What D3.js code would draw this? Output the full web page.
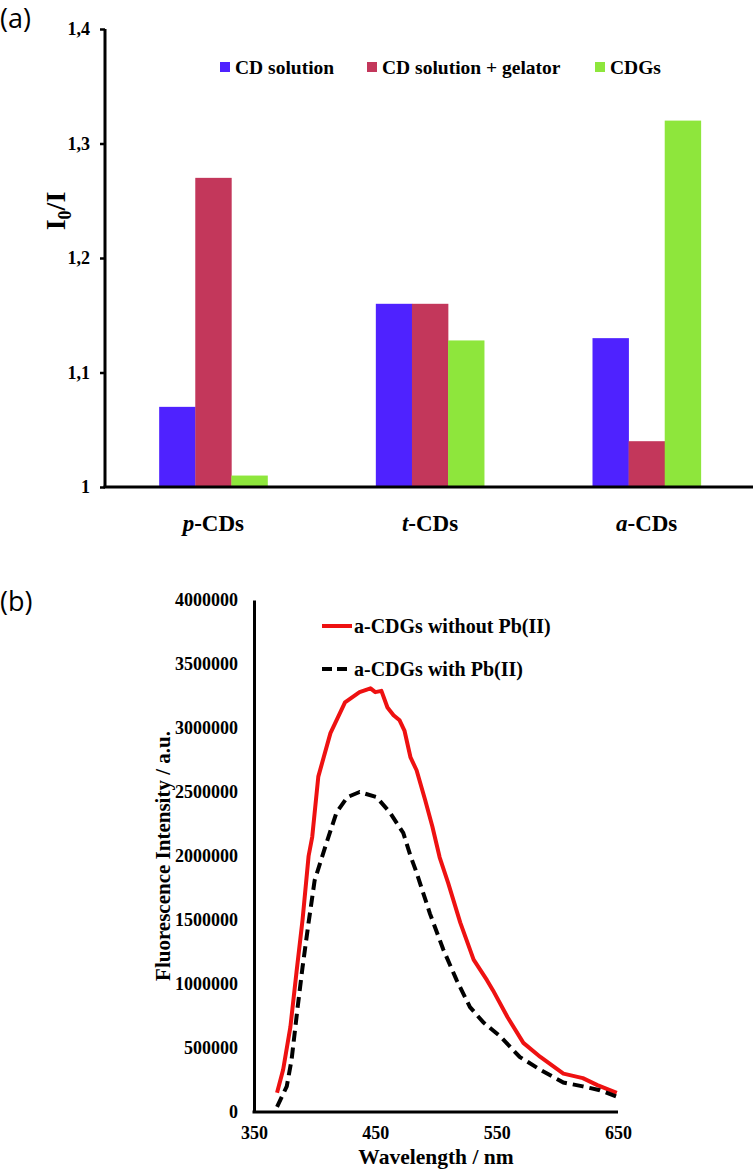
<!DOCTYPE html>
<html><head><meta charset="utf-8">
<script src="https://cdn.jsdelivr.net/npm/d3@7"></script>
<style>
html,body{margin:0;padding:0;background:#fff;}
svg{display:block;}
text{font-family:"Liberation Serif","Times New Roman",serif !important;font-weight:bold;fill:#000;}
text.sans{font-family:"Open Sans","Liberation Sans",sans-serif !important;font-weight:normal;}
</style></head>
<body>
<svg id="chart" width="756" height="1175"></svg>
<script>
// ---------- Data (a) ----------
const categories = ["p", "t", "a"];           // prefix of "-CDs"
const seriesNames = ["CD solution", "CD solution + gelator", "CDGs"];
const seriesColors = ["#4f22ff", "#c3375b", "#8ee63c"];
const cdSolution = [1.07, 1.16, 1.13];
const cdSolutionGelator = [1.27, 1.16, 1.04];
const cdgs = [1.01, 1.128, 1.32];
const yTicksA = [1, 1.1, 1.2, 1.3, 1.4];
const yTickLabelsA = ["1", "1,1", "1,2", "1,3", "1,4"];

// ---------- Data (b) ----------
const redWl = [369,374,380,385,390,395,398,403,413,425,437,446,450,455,460,465,470,474,479,484,491,497,503,510,520,531,542,547,559,572,586,605,621,633,649];
const redVal = [150000,330000,665000,1090000,1500000,2000000,2150000,2620000,2960000,3200000,3280000,3310000,3280000,3290000,3160000,3100000,3060000,2980000,2770000,2670000,2440000,2230000,1990000,1790000,1480000,1190000,1030000,950000,740000,540000,430000,300000,265000,210000,150000];
const blackWl = [369,377,381,386,390,395,400,409,418,427,437,451,462,473,479,484,495,506,517,528,539,553,569,586,605,621,635,649];
const blackVal = [40000,200000,410000,820000,1130000,1480000,1810000,2080000,2340000,2460000,2500000,2460000,2340000,2180000,2000000,1870000,1550000,1270000,1030000,820000,700000,590000,430000,330000,230000,200000,170000,120000];
const legendB = ["a-CDGs without Pb(II)", "a-CDGs with Pb(II)"];
const yTicksB = [0,500000,1000000,1500000,2000000,2500000,3000000,3500000,4000000];
const xTicksB = [350,450,550,650];

const svg = d3.select("#chart");

// ================= Panel (a) =================
svg.append("text").attr("class", "sans").attr("x", 0).attr("y", 28)
  .style("font-size", "27px").text("(a)");

const yA = d3.scaleLinear().domain([1, 1.4]).range([487, 29]);
const x0 = d3.scaleBand().domain(categories).range([105, 755]).paddingInner(0.5).paddingOuter(0.25);
const x1 = d3.scaleBand().domain(d3.range(3)).range([0, x0.bandwidth()]);
const seriesVals = [cdSolution, cdSolutionGelator, cdgs];

const gA = svg.append("g");
categories.forEach((c, ci) => {
  seriesVals.forEach((vals, si) => {
    gA.append("rect")
      .attr("x", x0(c) + x1(si))
      .attr("y", yA(vals[ci]))
      .attr("width", x1.bandwidth() + 0.3)
      .attr("height", yA(1) - yA(vals[ci]))
      .attr("fill", seriesColors[si]);
  });
});

// y axis
const yAxisA = d3.axisLeft(yA).tickValues(yTicksA).tickFormat((d, i) => yTickLabelsA[i]).tickSize(5).tickPadding(10);
const gyA = svg.append("g").attr("transform", "translate(105,0)").call(yAxisA);
gyA.select(".domain").attr("stroke", "#000").attr("stroke-width", 3).attr("d", "M0,29V487");
gyA.selectAll(".tick line").attr("stroke", "#000").attr("stroke-width", 2.5);
gyA.selectAll(".tick text").style("font-size", "18px");

// x axis
const xAxisA = d3.axisBottom(x0).tickSize(0).tickFormat("");
const gxA = svg.append("g").attr("transform", "translate(0,487)").call(xAxisA);
gxA.select(".domain").attr("stroke", "#000").attr("stroke-width", 3).attr("d", "M103.5,0H753");
categories.forEach(c => {
  const t = svg.append("text").attr("x", x0(c) + x0.bandwidth() / 2).attr("y", 531)
    .attr("text-anchor", "middle").style("font-size", "23px");
  t.append("tspan").style("font-style", "italic").text(c);
  t.append("tspan").text("-CDs");
});

// y title
const ttlA = svg.append("text").attr("transform", "translate(65,211) rotate(-90)")
  .attr("text-anchor", "middle").style("font-size", "28px");
ttlA.append("tspan").text("I");
ttlA.append("tspan").attr("dy", 6).style("font-size", "18px").text("0");
ttlA.append("tspan").attr("dy", -6).text("/I");

// legend (a)
const legX = [220, 367, 595];
seriesNames.forEach((n, i) => {
  svg.append("rect").attr("x", legX[i]).attr("y", 62).attr("width", 10).attr("height", 10).attr("fill", seriesColors[i]);
  svg.append("text").attr("x", legX[i] + 15).attr("y", 74).style("font-size", "19.5px").text(n);
});

// ================= Panel (b) =================
svg.append("text").attr("class", "sans").attr("x", 0).attr("y", 611)
  .style("font-size", "27px").text("(b)");

const xB = d3.scaleLinear().domain([350, 650]).range([254, 618]);
const yB = d3.scaleLinear().domain([0, 4000000]).range([1112, 600]);

const yAxisB = d3.axisLeft(yB).tickValues(yTicksB).tickFormat(d => String(d)).tickSize(0).tickPadding(16);
const gyB = svg.append("g").attr("transform", "translate(254,0)").call(yAxisB);
gyB.select(".domain").attr("stroke", "#000").attr("stroke-width", 3);
gyB.selectAll(".tick text").style("font-size", "18px");

const xAxisB = d3.axisBottom(xB).tickValues(xTicksB).tickFormat(d => String(d)).tickSize(0).tickPadding(14);
const gxB = svg.append("g").attr("transform", "translate(0,1112)").call(xAxisB);
gxB.select(".domain").attr("stroke", "#000").attr("stroke-width", 3).attr("d", "M252.5,0H618");
gxB.selectAll(".tick text").style("font-size", "18px");

const line = d3.line().x(d => xB(d[0])).y(d => yB(d[1]));
svg.append("path").datum(redWl.map((w, i) => [w, redVal[i]]))
  .attr("d", line).attr("fill", "none").attr("stroke", "#ee1111").attr("stroke-width", 4).attr("stroke-linejoin", "round");
svg.append("path").datum(blackWl.map((w, i) => [w, blackVal[i]]))
  .attr("d", line).attr("fill", "none").attr("stroke", "#000").attr("stroke-width", 4).attr("stroke-dasharray", "11,6");

svg.append("text").attr("x", xB(500)).attr("y", 1164).attr("text-anchor", "middle").style("font-size", "21.5px").text("Wavelength / nm");
svg.append("text").attr("transform", "translate(170,856) rotate(-90)").attr("text-anchor", "middle").style("font-size", "21px").text("Fluorescence Intensity / a.u.");

// legend (b)
svg.append("line").attr("x1", 322).attr("x2", 352).attr("y1", 626).attr("y2", 626).attr("stroke", "#ee1111").attr("stroke-width", 4);
svg.append("text").attr("x", 354).attr("y", 633).style("font-size", "20px").text(legendB[0]);
svg.append("line").attr("x1", 322).attr("x2", 352).attr("y1", 669).attr("y2", 669).attr("stroke", "#000").attr("stroke-width", 4).attr("stroke-dasharray", "10,5");
svg.append("text").attr("x", 354).attr("y", 676).style("font-size", "20px").text(legendB[1]);
</script>
</body></html>
